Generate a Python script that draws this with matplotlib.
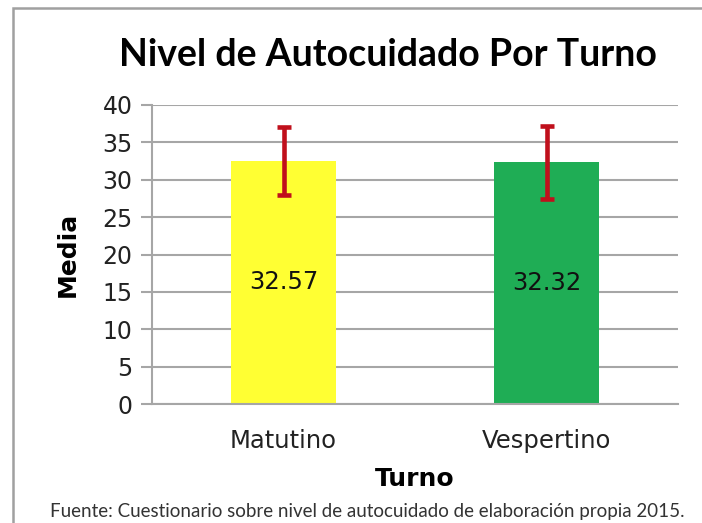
import matplotlib
matplotlib.use("Agg")
import matplotlib.pyplot as plt
from matplotlib.patches import Rectangle

turnos = ["Matutino", "Vespertino"]
medias = [32.57, 32.32]
errores = [4.55, 4.9]
colores = ["#FFFF33", "#1FAD55"]
yticks = [0, 5, 10, 15, 20, 25, 30, 35, 40]

fig = plt.figure(figsize=(7.02, 5.23), dpi=100)
ax = fig.add_axes([152 / 702, 119 / 523, 526 / 702, 299 / 523])

x = list(range(len(turnos)))
ax.bar(x, medias, width=0.4, color=colores, zorder=2)
ax.errorbar(x, medias, yerr=errores, fmt="none", ecolor="#C0101C",
            elinewidth=3.3, capsize=4.7, capthick=3.3, zorder=3)
for xi, m in zip(x, medias):
    ax.text(xi, m / 2, f"{m:.2f}", ha="center", va="center", fontsize=17.5, color="#111111", zorder=4)

ax.set_xlim(-0.5, 1.5)
ax.set_ylim(0, 40)
ax.set_yticks(yticks)
ax.set_xticks(x)
ax.set_xticklabels(turnos)
ax.grid(axis="y", color="#A6A6A6", linewidth=1.5, zorder=1)
ax.set_axisbelow(True)
for s in ["top", "right"]:
    ax.spines[s].set_visible(False)
ax.spines["left"].set_color("#A6A6A6")
ax.spines["left"].set_linewidth(1.5)
ax.spines["bottom"].set_color("#A6A6A6")
ax.spines["bottom"].set_linewidth(1.5)
ax.tick_params(axis="y", length=8, width=1.5, color="#A6A6A6", labelsize=17, pad=6, labelcolor="#222222")
ax.tick_params(axis="x", length=0, labelsize=17.5, pad=18, labelcolor="#222222")

ax.set_ylabel("Media", fontsize=18, fontweight="bold", labelpad=16)
ax.set_xlabel("Turno", fontsize=18, fontweight="bold", labelpad=10)

fig.text(388 / 702, 1 - 55 / 523, "Nivel de Autocuidado Por Turno", ha="center", va="center",
         fontsize=27, fontweight="bold", family="Lato")
fig.text(367 / 702, 1 - 512 / 523, "Fuente: Cuestionario sobre nivel de autocuidado de elaboración propia 2015.",
         ha="center", va="center", fontsize=13.5, family="Lato", color="#333333")

fig.add_artist(Rectangle((13 / 702, -0.1), 1.2, 1.1 - 8 / 523, transform=fig.transFigure,
                         fill=False, edgecolor="#A0A0A0", linewidth=1.8))

fig.savefig("out.png", dpi=100)
